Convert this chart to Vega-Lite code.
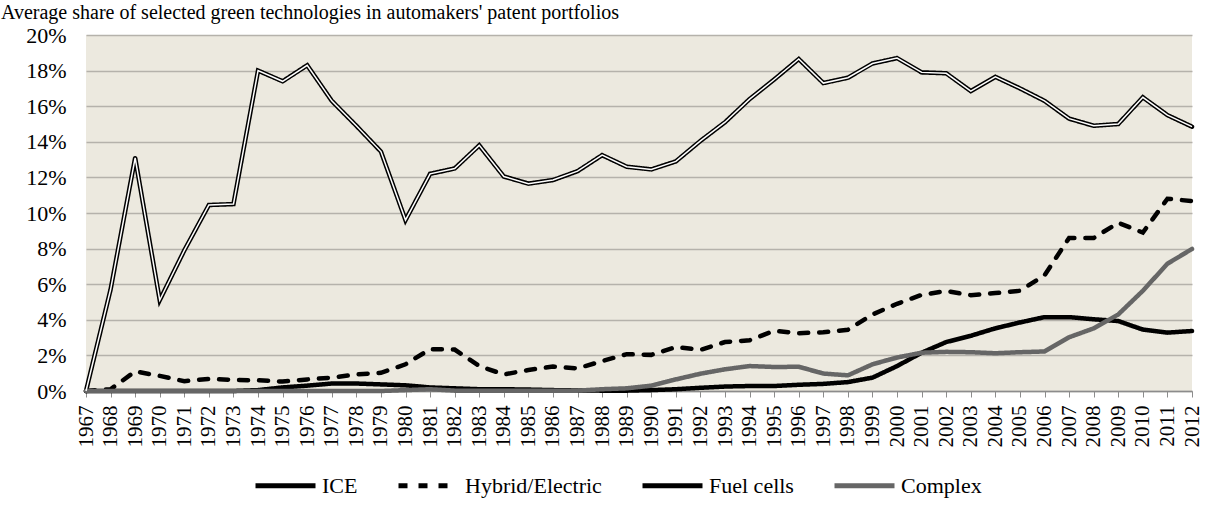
{
  "$schema": "https://vega.github.io/schema/vega-lite/v6.json",
  "autosize": "none",
  "width": 1106,
  "height": 356,
  "padding": {"left": 86, "top": 35, "right": 23, "bottom": 123},
  "background": "white",
  "title": {
    "text": "Average share of selected green technologies in automakers' patent portfolios",
    "anchor": "start",
    "frame": "group",
    "dx": -85,
    "dy": 24,
    "offset": 9,
    "baseline": "alphabetic",
    "font": "Liberation Serif, Times New Roman, DejaVu Serif, serif",
    "fontSize": 20,
    "fontWeight": "normal",
    "color": "black"
  },
  "config": {
    "font": "Liberation Serif, Times New Roman, DejaVu Serif, serif",
    "view": {"fill": "#ECE9DF", "stroke": null}
  },
  "data": {
    "values": [
      {"year": 1967, "s": "ICE", "v": 0}, {"year": 1968, "s": "ICE", "v": 5.7}, {"year": 1969, "s": "ICE", "v": 13.1}, {"year": 1970, "s": "ICE", "v": 5.1}, {"year": 1971, "s": "ICE", "v": 7.9}, {"year": 1972, "s": "ICE", "v": 10.45}, {"year": 1973, "s": "ICE", "v": 10.5}, {"year": 1974, "s": "ICE", "v": 18.0}, {"year": 1975, "s": "ICE", "v": 17.4}, {"year": 1976, "s": "ICE", "v": 18.3}, {"year": 1977, "s": "ICE", "v": 16.3}, {"year": 1978, "s": "ICE", "v": 14.9}, {"year": 1979, "s": "ICE", "v": 13.45}, {"year": 1980, "s": "ICE", "v": 9.6}, {"year": 1981, "s": "ICE", "v": 12.2}, {"year": 1982, "s": "ICE", "v": 12.5}, {"year": 1983, "s": "ICE", "v": 13.8}, {"year": 1984, "s": "ICE", "v": 12.05}, {"year": 1985, "s": "ICE", "v": 11.65}, {"year": 1986, "s": "ICE", "v": 11.85}, {"year": 1987, "s": "ICE", "v": 12.35}, {"year": 1988, "s": "ICE", "v": 13.25}, {"year": 1989, "s": "ICE", "v": 12.6}, {"year": 1990, "s": "ICE", "v": 12.45}, {"year": 1991, "s": "ICE", "v": 12.9}, {"year": 1992, "s": "ICE", "v": 14.05}, {"year": 1993, "s": "ICE", "v": 15.1}, {"year": 1994, "s": "ICE", "v": 16.4}, {"year": 1995, "s": "ICE", "v": 17.5}, {"year": 1996, "s": "ICE", "v": 18.65}, {"year": 1997, "s": "ICE", "v": 17.3}, {"year": 1998, "s": "ICE", "v": 17.6}, {"year": 1999, "s": "ICE", "v": 18.4}, {"year": 2000, "s": "ICE", "v": 18.7}, {"year": 2001, "s": "ICE", "v": 17.9}, {"year": 2002, "s": "ICE", "v": 17.85}, {"year": 2003, "s": "ICE", "v": 16.85}, {"year": 2004, "s": "ICE", "v": 17.65}, {"year": 2005, "s": "ICE", "v": 17.0}, {"year": 2006, "s": "ICE", "v": 16.3}, {"year": 2007, "s": "ICE", "v": 15.3}, {"year": 2008, "s": "ICE", "v": 14.9}, {"year": 2009, "s": "ICE", "v": 15.0}, {"year": 2010, "s": "ICE", "v": 16.5}, {"year": 2011, "s": "ICE", "v": 15.5}, {"year": 2012, "s": "ICE", "v": 14.85},
      {"year": 1967, "s": "Hybrid/Electric", "v": 0}, {"year": 1968, "s": "Hybrid/Electric", "v": 0.1}, {"year": 1969, "s": "Hybrid/Electric", "v": 1.1}, {"year": 1970, "s": "Hybrid/Electric", "v": 0.85}, {"year": 1971, "s": "Hybrid/Electric", "v": 0.55}, {"year": 1972, "s": "Hybrid/Electric", "v": 0.68}, {"year": 1973, "s": "Hybrid/Electric", "v": 0.62}, {"year": 1974, "s": "Hybrid/Electric", "v": 0.6}, {"year": 1975, "s": "Hybrid/Electric", "v": 0.53}, {"year": 1976, "s": "Hybrid/Electric", "v": 0.65}, {"year": 1977, "s": "Hybrid/Electric", "v": 0.75}, {"year": 1978, "s": "Hybrid/Electric", "v": 0.93}, {"year": 1979, "s": "Hybrid/Electric", "v": 1.02}, {"year": 1980, "s": "Hybrid/Electric", "v": 1.5}, {"year": 1981, "s": "Hybrid/Electric", "v": 2.35}, {"year": 1982, "s": "Hybrid/Electric", "v": 2.33}, {"year": 1983, "s": "Hybrid/Electric", "v": 1.4}, {"year": 1984, "s": "Hybrid/Electric", "v": 0.93}, {"year": 1985, "s": "Hybrid/Electric", "v": 1.18}, {"year": 1986, "s": "Hybrid/Electric", "v": 1.37}, {"year": 1987, "s": "Hybrid/Electric", "v": 1.27}, {"year": 1988, "s": "Hybrid/Electric", "v": 1.68}, {"year": 1989, "s": "Hybrid/Electric", "v": 2.07}, {"year": 1990, "s": "Hybrid/Electric", "v": 2.03}, {"year": 1991, "s": "Hybrid/Electric", "v": 2.47}, {"year": 1992, "s": "Hybrid/Electric", "v": 2.31}, {"year": 1993, "s": "Hybrid/Electric", "v": 2.75}, {"year": 1994, "s": "Hybrid/Electric", "v": 2.85}, {"year": 1995, "s": "Hybrid/Electric", "v": 3.38}, {"year": 1996, "s": "Hybrid/Electric", "v": 3.25}, {"year": 1997, "s": "Hybrid/Electric", "v": 3.3}, {"year": 1998, "s": "Hybrid/Electric", "v": 3.44}, {"year": 1999, "s": "Hybrid/Electric", "v": 4.3}, {"year": 2000, "s": "Hybrid/Electric", "v": 4.9}, {"year": 2001, "s": "Hybrid/Electric", "v": 5.4}, {"year": 2002, "s": "Hybrid/Electric", "v": 5.62}, {"year": 2003, "s": "Hybrid/Electric", "v": 5.38}, {"year": 2004, "s": "Hybrid/Electric", "v": 5.5}, {"year": 2005, "s": "Hybrid/Electric", "v": 5.63}, {"year": 2006, "s": "Hybrid/Electric", "v": 6.5}, {"year": 2007, "s": "Hybrid/Electric", "v": 8.6}, {"year": 2008, "s": "Hybrid/Electric", "v": 8.6}, {"year": 2009, "s": "Hybrid/Electric", "v": 9.45}, {"year": 2010, "s": "Hybrid/Electric", "v": 8.9}, {"year": 2011, "s": "Hybrid/Electric", "v": 10.8}, {"year": 2012, "s": "Hybrid/Electric", "v": 10.67},
      {"year": 1967, "s": "Fuel cells", "v": 0}, {"year": 1968, "s": "Fuel cells", "v": 0}, {"year": 1969, "s": "Fuel cells", "v": 0}, {"year": 1970, "s": "Fuel cells", "v": 0}, {"year": 1971, "s": "Fuel cells", "v": 0}, {"year": 1972, "s": "Fuel cells", "v": 0}, {"year": 1973, "s": "Fuel cells", "v": 0}, {"year": 1974, "s": "Fuel cells", "v": 0.05}, {"year": 1975, "s": "Fuel cells", "v": 0.2}, {"year": 1976, "s": "Fuel cells", "v": 0.3}, {"year": 1977, "s": "Fuel cells", "v": 0.42}, {"year": 1978, "s": "Fuel cells", "v": 0.42}, {"year": 1979, "s": "Fuel cells", "v": 0.37}, {"year": 1980, "s": "Fuel cells", "v": 0.32}, {"year": 1981, "s": "Fuel cells", "v": 0.2}, {"year": 1982, "s": "Fuel cells", "v": 0.15}, {"year": 1983, "s": "Fuel cells", "v": 0.1}, {"year": 1984, "s": "Fuel cells", "v": 0.1}, {"year": 1985, "s": "Fuel cells", "v": 0.08}, {"year": 1986, "s": "Fuel cells", "v": 0.05}, {"year": 1987, "s": "Fuel cells", "v": 0.03}, {"year": 1988, "s": "Fuel cells", "v": 0.02}, {"year": 1989, "s": "Fuel cells", "v": 0.02}, {"year": 1990, "s": "Fuel cells", "v": 0.05}, {"year": 1991, "s": "Fuel cells", "v": 0.1}, {"year": 1992, "s": "Fuel cells", "v": 0.18}, {"year": 1993, "s": "Fuel cells", "v": 0.25}, {"year": 1994, "s": "Fuel cells", "v": 0.28}, {"year": 1995, "s": "Fuel cells", "v": 0.28}, {"year": 1996, "s": "Fuel cells", "v": 0.35}, {"year": 1997, "s": "Fuel cells", "v": 0.4}, {"year": 1998, "s": "Fuel cells", "v": 0.5}, {"year": 1999, "s": "Fuel cells", "v": 0.75}, {"year": 2000, "s": "Fuel cells", "v": 1.4}, {"year": 2001, "s": "Fuel cells", "v": 2.15}, {"year": 2002, "s": "Fuel cells", "v": 2.75}, {"year": 2003, "s": "Fuel cells", "v": 3.1}, {"year": 2004, "s": "Fuel cells", "v": 3.52}, {"year": 2005, "s": "Fuel cells", "v": 3.85}, {"year": 2006, "s": "Fuel cells", "v": 4.15}, {"year": 2007, "s": "Fuel cells", "v": 4.15}, {"year": 2008, "s": "Fuel cells", "v": 4.03}, {"year": 2009, "s": "Fuel cells", "v": 3.93}, {"year": 2010, "s": "Fuel cells", "v": 3.45}, {"year": 2011, "s": "Fuel cells", "v": 3.28}, {"year": 2012, "s": "Fuel cells", "v": 3.37},
      {"year": 1967, "s": "Complex", "v": 0}, {"year": 1968, "s": "Complex", "v": 0}, {"year": 1969, "s": "Complex", "v": 0}, {"year": 1970, "s": "Complex", "v": 0}, {"year": 1971, "s": "Complex", "v": 0}, {"year": 1972, "s": "Complex", "v": 0}, {"year": 1973, "s": "Complex", "v": 0}, {"year": 1974, "s": "Complex", "v": 0}, {"year": 1975, "s": "Complex", "v": 0}, {"year": 1976, "s": "Complex", "v": 0}, {"year": 1977, "s": "Complex", "v": 0}, {"year": 1978, "s": "Complex", "v": 0}, {"year": 1979, "s": "Complex", "v": 0}, {"year": 1980, "s": "Complex", "v": 0.05}, {"year": 1981, "s": "Complex", "v": 0.1}, {"year": 1982, "s": "Complex", "v": 0.02}, {"year": 1983, "s": "Complex", "v": 0.02}, {"year": 1984, "s": "Complex", "v": 0.02}, {"year": 1985, "s": "Complex", "v": 0.02}, {"year": 1986, "s": "Complex", "v": 0.02}, {"year": 1987, "s": "Complex", "v": 0.02}, {"year": 1988, "s": "Complex", "v": 0.1}, {"year": 1989, "s": "Complex", "v": 0.15}, {"year": 1990, "s": "Complex", "v": 0.3}, {"year": 1991, "s": "Complex", "v": 0.65}, {"year": 1992, "s": "Complex", "v": 0.97}, {"year": 1993, "s": "Complex", "v": 1.22}, {"year": 1994, "s": "Complex", "v": 1.4}, {"year": 1995, "s": "Complex", "v": 1.35}, {"year": 1996, "s": "Complex", "v": 1.36}, {"year": 1997, "s": "Complex", "v": 0.98}, {"year": 1998, "s": "Complex", "v": 0.88}, {"year": 1999, "s": "Complex", "v": 1.5}, {"year": 2000, "s": "Complex", "v": 1.88}, {"year": 2001, "s": "Complex", "v": 2.15}, {"year": 2002, "s": "Complex", "v": 2.2}, {"year": 2003, "s": "Complex", "v": 2.18}, {"year": 2004, "s": "Complex", "v": 2.12}, {"year": 2005, "s": "Complex", "v": 2.18}, {"year": 2006, "s": "Complex", "v": 2.22}, {"year": 2007, "s": "Complex", "v": 3.02}, {"year": 2008, "s": "Complex", "v": 3.52}, {"year": 2009, "s": "Complex", "v": 4.3}, {"year": 2010, "s": "Complex", "v": 5.63}, {"year": 2011, "s": "Complex", "v": 7.15}, {"year": 2012, "s": "Complex", "v": 7.98}
    ]
  },
  "encoding": {
    "x": {
      "field": "year",
      "type": "quantitative",
      "scale": {"domain": [1967, 2012], "nice": false, "zero": false},
      "axis": {
        "title": null,
        "values": [1967,1968,1969,1970,1971,1972,1973,1974,1975,1976,1977,1978,1979,1980,1981,1982,1983,1984,1985,1986,1987,1988,1989,1990,1991,1992,1993,1994,1995,1996,1997,1998,1999,2000,2001,2002,2003,2004,2005,2006,2007,2008,2009,2010,2011,2012],
        "format": "d",
        "labelAngle": -90,
        "labelFont": "Liberation Serif, Times New Roman, DejaVu Serif, serif",
        "labelFontSize": 21,
        "labelColor": "black",
        "labelPadding": 8,
        "labelOverlap": false,
        "labelBound": false,
        "labelFlush": false,
        "grid": false,
        "domainColor": "#8C8C8C",
        "domainWidth": 1.5,
        "tickColor": "#8C8C8C",
        "tickWidth": 1,
        "tickSize": 6
      }
    },
    "y": {
      "field": "v",
      "type": "quantitative",
      "scale": {"domain": [0, 20], "nice": false},
      "axis": {
        "title": null,
        "values": [0, 2, 4, 6, 8, 10, 12, 14, 16, 18, 20],
        "labelExpr": "datum.value + '%'",
        "labelFont": "Liberation Serif, Times New Roman, DejaVu Serif, serif",
        "labelFontSize": 22,
        "labelColor": "black",
        "labelPadding": 20,
        "ticks": false,
        "tickSize": 0,
        "domain": false,
        "grid": true,
        "gridColor": "#B5B2AB",
        "gridWidth": 1.5
      }
    }
  },
  "layer": [
    {
      "mark": {"type": "line", "strokeWidth": 4.5, "strokeCap": "round", "strokeJoin": "miter"},
      "encoding": {
        "color": {
          "field": "s",
          "type": "nominal",
          "scale": {"domain": ["ICE", "Hybrid/Electric", "Fuel cells", "Complex"], "range": ["#000000", "#000000", "#000000", "#666666"]},
          "legend": {
            "title": null,
            "orient": "none",
            "legendX": 167,
            "legendY": 418,
            "direction": "horizontal",
            "columns": 4,
            "symbolType": "stroke",
            "symbolSize": 3600,
            "symbolStrokeWidth": 5,
            "labelFont": "Liberation Serif, Times New Roman, DejaVu Serif, serif",
            "labelFontSize": 22,
            "labelColor": "black",
            "labelOffset": 4,
            "columnPadding": 30,
            "labelLimit": 300
          }
        },
        "strokeDash": {
          "field": "s",
          "type": "nominal",
          "scale": {"domain": ["ICE", "Hybrid/Electric", "Fuel cells", "Complex"], "range": [[1, 0], [9, 11], [1, 0], [1, 0]]},
          "legend": {
            "title": null,
            "orient": "none",
            "legendX": 167,
            "legendY": 418,
            "direction": "horizontal",
            "columns": 4,
            "symbolType": "stroke",
            "symbolSize": 3600,
            "symbolStrokeWidth": 5,
            "labelFont": "Liberation Serif, Times New Roman, DejaVu Serif, serif",
            "labelFontSize": 22,
            "labelColor": "black",
            "labelOffset": 4,
            "columnPadding": 30,
            "labelLimit": 300
          }
        },
        "order": {"field": "year"}
      }
    },
    {
      "transform": [{"filter": "datum.s === 'ICE'"}],
      "mark": {"type": "line", "strokeWidth": 1.5, "color": "white", "strokeJoin": "miter"},
      "encoding": {"order": {"field": "year"}}
    }
  ]
}
